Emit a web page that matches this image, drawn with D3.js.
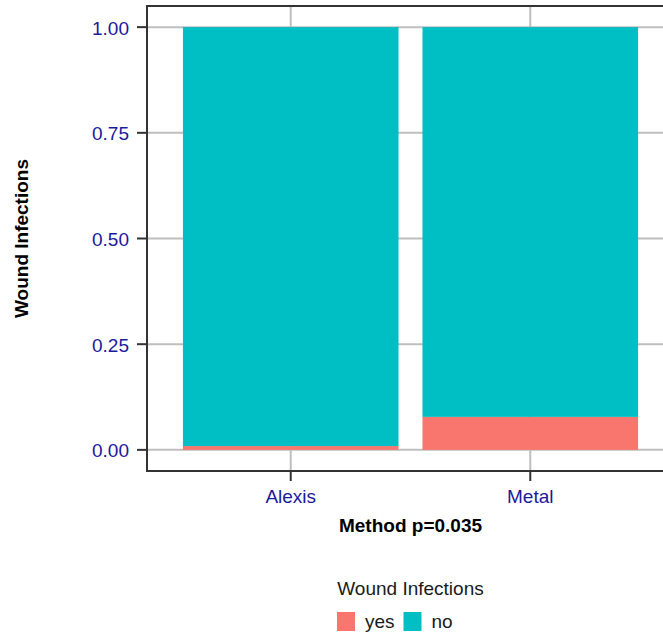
<!DOCTYPE html>
<html><head><meta charset="utf-8">
<script src="https://cdn.jsdelivr.net/npm/d3@7"></script>
<style>body{margin:0;background:#fff}svg{display:block;font-family:"Liberation Sans",Arial,sans-serif}</style>
</head><body><div id="chart"></div>
<script>
const categories = ["Alexis","Metal"];
const yesValues = [0.009, 0.078];
const noValues = [0.991, 0.922];
const seriesNames = ["yes","no"];
const seriesColors = ["#F8766D","#00BFC4"];
const yTicks = [0, 0.25, 0.5, 0.75, 1.0];
const yTickLabels = ["0.00","0.25","0.50","0.75","1.00"];

(function(){
const W = 663, H = 639;
const svg = d3.select("#chart").append("svg").attr("width", W).attr("height", H);
const pL = 147, pT = 6, pR = 674, pB = 471;

const x = d3.scaleBand().domain(categories).range([pL, pR]).paddingInner(0.1).paddingOuter(0.15);
const cx = c => x(c) + x.bandwidth()/2;
const bw = x.bandwidth();
const y = d3.scaleLinear().domain([-0.05, 1.05]).range([pB, pT]);

svg.append("clipPath").attr("id","pc").append("rect").attr("x",pL).attr("y",pT).attr("width",pR-pL).attr("height",pB-pT);
const g = svg.append("g").attr("clip-path","url(#pc)");
g.selectAll(".hg").data(yTicks).enter().append("line")
 .attr("x1",pL).attr("x2",pR).attr("y1",d=>y(d)).attr("y2",d=>y(d))
 .attr("stroke","#BEBEBE").attr("stroke-width",2);
g.selectAll(".vg").data(categories).enter().append("line")
 .attr("x1",d=>cx(d)).attr("x2",d=>cx(d)).attr("y1",pT).attr("y2",pB)
 .attr("stroke","#BEBEBE").attr("stroke-width",2);
const data = categories.map((c,i)=>({cat:c, yes:yesValues[i], no:noValues[i]}));
const stack = d3.stack().keys(seriesNames)(data);
stack.forEach((s,si)=>{
  g.selectAll(".b"+si).data(s).enter().append("rect")
   .attr("x",d=>x(d.data.cat)).attr("width",bw)
   .attr("y",d=>y(d[1])).attr("height",d=>y(d[0])-y(d[1]))
   .attr("fill",seriesColors[si]);
});
svg.append("path").attr("d",`M${pR},${pT}H${pL}V${pB}H${pR}`)
 .attr("fill","none").attr("stroke","#333").attr("stroke-width",2);
svg.selectAll(".yt").data(yTicks).enter().append("line")
 .attr("x1",pL-10).attr("x2",pL).attr("y1",d=>y(d)).attr("y2",d=>y(d)).attr("stroke","#333").attr("stroke-width",2);
svg.selectAll(".xt").data(categories).enter().append("line")
 .attr("x1",d=>cx(d)).attr("x2",d=>cx(d)).attr("y1",pB).attr("y2",pB+10).attr("stroke","#333").attr("stroke-width",2);
svg.selectAll(".ytl").data(yTicks).enter().append("text")
 .attr("x",pL-18).attr("y",d=>y(d)+7.5).attr("text-anchor","end")
 .attr("font-size",19).attr("fill","#1A1A9C").text((d,i)=>yTickLabels[i]);
svg.selectAll(".xtl").data(categories).enter().append("text")
 .attr("x",d=>cx(d)).attr("y",503).attr("text-anchor","middle")
 .attr("font-size",19).attr("fill","#1A1A9C").text(d=>d);
svg.append("text").attr("x",(pL+pR)/2).attr("y",531.5).attr("text-anchor","middle")
 .attr("font-size",19).attr("font-weight","bold").attr("fill","#000").text("Method p=0.035");
svg.append("text").attr("transform",`translate(28,${(pT+pB)/2}) rotate(-90)`).attr("text-anchor","middle")
 .attr("font-size",19).attr("font-weight","bold").attr("fill","#000").text("Wound Infections");
const lx = (pL+pR)/2;
svg.append("text").attr("x",lx).attr("y",595).attr("text-anchor","middle").attr("font-size",19).attr("fill","#1a1a1a").text("Wound Infections");
const items = [337, 403.5];
seriesNames.forEach((n,i)=>{
  svg.append("rect").attr("x",items[i]).attr("y",612).attr("width",18).attr("height",19).attr("fill",seriesColors[i]);
  svg.append("text").attr("x",items[i]+28).attr("y",627.5).attr("font-size",19).attr("fill","#1a1a1a").text(n);
});
})();
</script></body></html>
